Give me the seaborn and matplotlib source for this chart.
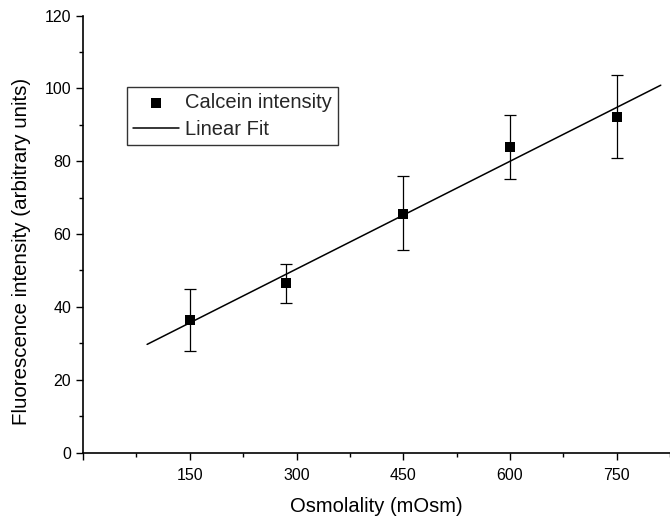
import numpy as np
import pandas as pd
import seaborn as sns
import matplotlib.pyplot as plt
from matplotlib.ticker import MultipleLocator

# values
osmolality = [150, 285, 450, 600, 750]
intensity = [36.3, 46.5, 65.6, 84.0, 92.1]
err_low = [27.8, 41.0, 55.5, 75.0, 80.8]
err_high = [44.9, 51.7, 76.0, 92.8, 103.6]
fit_range = [90, 812]

sns.set_theme(style="ticks")
plt.rcParams['font.family'] = ['Liberation Sans', 'DejaVu Sans']

df = pd.DataFrame({"x": osmolality, "y": intensity})
slope, intercept = np.polyfit(osmolality, intensity, 1)
fit = pd.DataFrame({"x": fit_range, "y": [slope * v + intercept for v in fit_range]})

fig = plt.figure(figsize=(6.7, 5.19), dpi=100)
ax = fig.add_axes([0.124, 0.128, 0.876, 0.842])

yerr = [np.array(intensity) - np.array(err_low), np.array(err_high) - np.array(intensity)]
ax.errorbar(osmolality, intensity, yerr=yerr, fmt="none", ecolor="black",
            elinewidth=0.9, capsize=4, capthick=0.9, zorder=2)
sns.lineplot(data=fit, x="x", y="y", ax=ax, color="black", linewidth=1.1,
             label="Linear Fit", zorder=3)
sns.scatterplot(data=df, x="x", y="y", ax=ax, marker="s", s=55, color="black",
                edgecolor="black", linewidth=0, label="Calcein intensity", zorder=4)

ax.set_xlim(0, 825)
ax.set_ylim(0, 120)
ax.set_xticks([0, 150, 300, 450, 600, 750], ["", "150", "300", "450", "600", "750"])
ax.xaxis.set_minor_locator(MultipleLocator(75))
ax.yaxis.set_minor_locator(MultipleLocator(10))
ax.tick_params(axis="both", which="major", direction="out", length=5, width=1,
               labelsize=11.5, color="black", labelcolor="black")
ax.tick_params(axis="x", which="major", pad=6)
ax.tick_params(axis="both", which="minor", direction="out", length=3, width=1, color="black")
for s in ["top", "right"]:
    ax.spines[s].set_visible(False)
for s in ["left", "bottom"]:
    ax.spines[s].set_color("black")
    ax.spines[s].set_linewidth(1.2)

ax.set_xlabel("Osmolality (mOsm)", fontsize=14.5, color="black", labelpad=10)
ax.set_ylabel("Fluorescence intensity (arbitrary units)", fontsize=14.8, color="black")
ax.yaxis.set_label_coords(-0.088, 0.461)

handles, labels = ax.get_legend_handles_labels()
order = [labels.index("Calcein intensity"), labels.index("Linear Fit")]
leg = ax.legend([handles[i] for i in order], [labels[i] for i in order],
                loc="upper left", bbox_to_anchor=(127 / 670, 1 - 87 / 519),
                bbox_transform=fig.transFigure, borderaxespad=0, fontsize=14.5,
                frameon=True, fancybox=False, handlelength=2.3, handletextpad=0.3,
                borderpad=0.3, labelspacing=0.4)
leg.get_frame().set_edgecolor("black")
leg.get_frame().set_linewidth(1.0)

fig.savefig("out.png", dpi=100)
